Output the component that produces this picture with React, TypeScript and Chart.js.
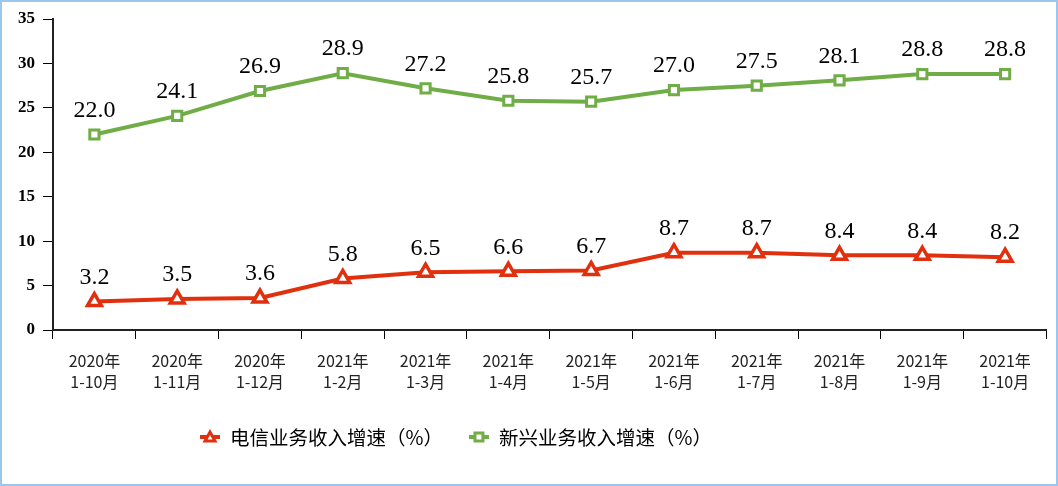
import React, { useEffect, useRef } from "react";
import { Chart, registerables } from "chart.js";

Chart.register(...registerables);

const categories: string[][] = [
  ["2020年", "1-10月"], ["2020年", "1-11月"], ["2020年", "1-12月"],
  ["2021年", "1-2月"], ["2021年", "1-3月"], ["2021年", "1-4月"],
  ["2021年", "1-5月"], ["2021年", "1-6月"], ["2021年", "1-7月"],
  ["2021年", "1-8月"], ["2021年", "1-9月"], ["2021年", "1-10月"],
];
const telecomGrowth = [3.2, 3.5, 3.6, 5.8, 6.5, 6.6, 6.7, 8.7, 8.7, 8.4, 8.4, 8.2];
const emergingGrowth = [22.0, 24.1, 26.9, 28.9, 27.2, 25.8, 25.7, 27.0, 27.5, 28.1, 28.8, 28.8];
const seriesNames = ["电信业务收入增速（%）", "新兴业务收入增速（%）"];
const yTicks = [0, 5, 10, 15, 20, 25, 30, 35];

const RED = "#E0300E";
const GREEN = "#70AD47";

const valueLabels = {
  id: "valueLabels",
  afterDatasetsDraw(chart: any) {
    const ctx = chart.ctx;
    ctx.save();
    ctx.font = '24px "Liberation Serif", "Times New Roman", serif';
    ctx.fillStyle = "#000";
    ctx.textAlign = "center";
    ctx.textBaseline = "middle";
    chart.data.datasets.forEach((ds: any, i: number) => {
      const meta = chart.getDatasetMeta(i);
      meta.data.forEach((pt: any, j: number) => {
        ctx.fillText(Number(ds.data[j]).toFixed(1), pt.x, pt.y - 24);
      });
    });
    ctx.restore();
  },
};

const customLegend = {
  id: "customLegend",
  afterDraw(chart: any) {
    const ctx = chart.ctx;
    ctx.save();
    ctx.font = '19.5px "Noto Sans CJK SC", sans-serif';
    ctx.textBaseline = "middle";
    const y = 437;
    const items = chart.data.datasets.map((ds: any) => ({
      text: ds.label,
      color: ds.borderColor,
      style: ds.pointStyle,
      w: ctx.measureText(ds.label).width,
    }));
    const markW = 20;
    const gapText = 10;
    const gapItems = 26;
    let x = 200;
    items.forEach((it: any) => {
      ctx.strokeStyle = it.color;
      ctx.lineWidth = 4;
      ctx.beginPath();
      ctx.moveTo(x, y);
      ctx.lineTo(x + markW, y);
      ctx.stroke();
      const cx = x + markW / 2;
      ctx.fillStyle = "#fff";
      ctx.lineWidth = 3;
      ctx.beginPath();
      if (it.style === "triangle") {
        ctx.moveTo(cx, y - 5);
        ctx.lineTo(cx + 5, y + 4);
        ctx.lineTo(cx - 5, y + 4);
        ctx.closePath();
      } else {
        ctx.rect(cx - 4, y - 4, 8, 8);
      }
      ctx.fill();
      ctx.stroke();
      ctx.fillStyle = "#000";
      ctx.textAlign = "left";
      ctx.fillText(it.text, x + markW + gapText, y + 1);
      x += markW + gapText + it.w + gapItems;
    });
    ctx.restore();
  },
};

export default function App() {
  const ref = useRef<HTMLCanvasElement>(null);
  useEffect(() => {
    document.body.style.margin = "0";
    const chart = new Chart(ref.current!, {
      type: "line",
      data: {
        labels: categories,
        datasets: [
          {
            label: seriesNames[0],
            data: telecomGrowth,
            borderColor: RED,
            backgroundColor: "#fff",
            borderWidth: 4,
            pointStyle: "triangle",
            pointRadius: 8,
            pointBorderWidth: 3.5,
            pointBackgroundColor: "#fff",
            pointBorderColor: RED,
            tension: 0,
          },
          {
            label: seriesNames[1],
            data: emergingGrowth,
            borderColor: GREEN,
            backgroundColor: "#fff",
            borderWidth: 4,
            pointStyle: "rect",
            pointRadius: 6.5,
            pointBorderWidth: 3,
            pointBackgroundColor: "#fff",
            pointBorderColor: GREEN,
            tension: 0,
          },
        ],
      },
      options: {
        animation: false,
        responsive: false,
        layout: { padding: { top: 19, right: 9, bottom: 76, left: 0 } },
        plugins: { legend: { display: false }, tooltip: { enabled: false } },
        scales: {
          x: {
            offset: true,
            grid: { offset: true, drawOnChartArea: false, drawTicks: true, tickLength: 9, color: "#000", lineWidth: 1 },
            border: { color: "#222", width: 2 },
            ticks: {
              color: "#222",
              font: { family: '"Noto Sans CJK SC", sans-serif', size: 16, lineHeight: 1.3 },
              padding: 12,
              maxRotation: 0,
              autoSkip: false,
            },
            afterFit: (s: any) => { s.height = 80; },
          },
          y: {
            min: 0,
            max: 35,
            afterBuildTicks: (s: any) => { s.ticks = yTicks.map((v) => ({ value: v })); },
            grid: { drawOnChartArea: false, drawTicks: true, tickLength: 10, color: "#000" },
            border: { color: "#222", width: 2 },
            ticks: {
              color: "#000",
              font: { family: '"Liberation Serif", "Times New Roman", serif', size: 17, weight: "bold" },
              padding: 8,
            },
            afterFit: (s: any) => { s.width = 53; },
          },
        },
      },
      plugins: [valueLabels, customLegend],
    });
    return () => chart.destroy();
  }, []);
  return (
    <div style={{ position: "absolute", left: 0, top: 0, width: 1058, height: 486, background: "#fff" }}>
      <canvas ref={ref} width={1058} height={486} style={{ display: "block" }} />
      <div style={{ position: "absolute", left: 0, top: 0, width: 1058, height: 486, boxSizing: "border-box", border: "2px solid #9CC6EE", pointerEvents: "none" }} />
    </div>
  );
}
